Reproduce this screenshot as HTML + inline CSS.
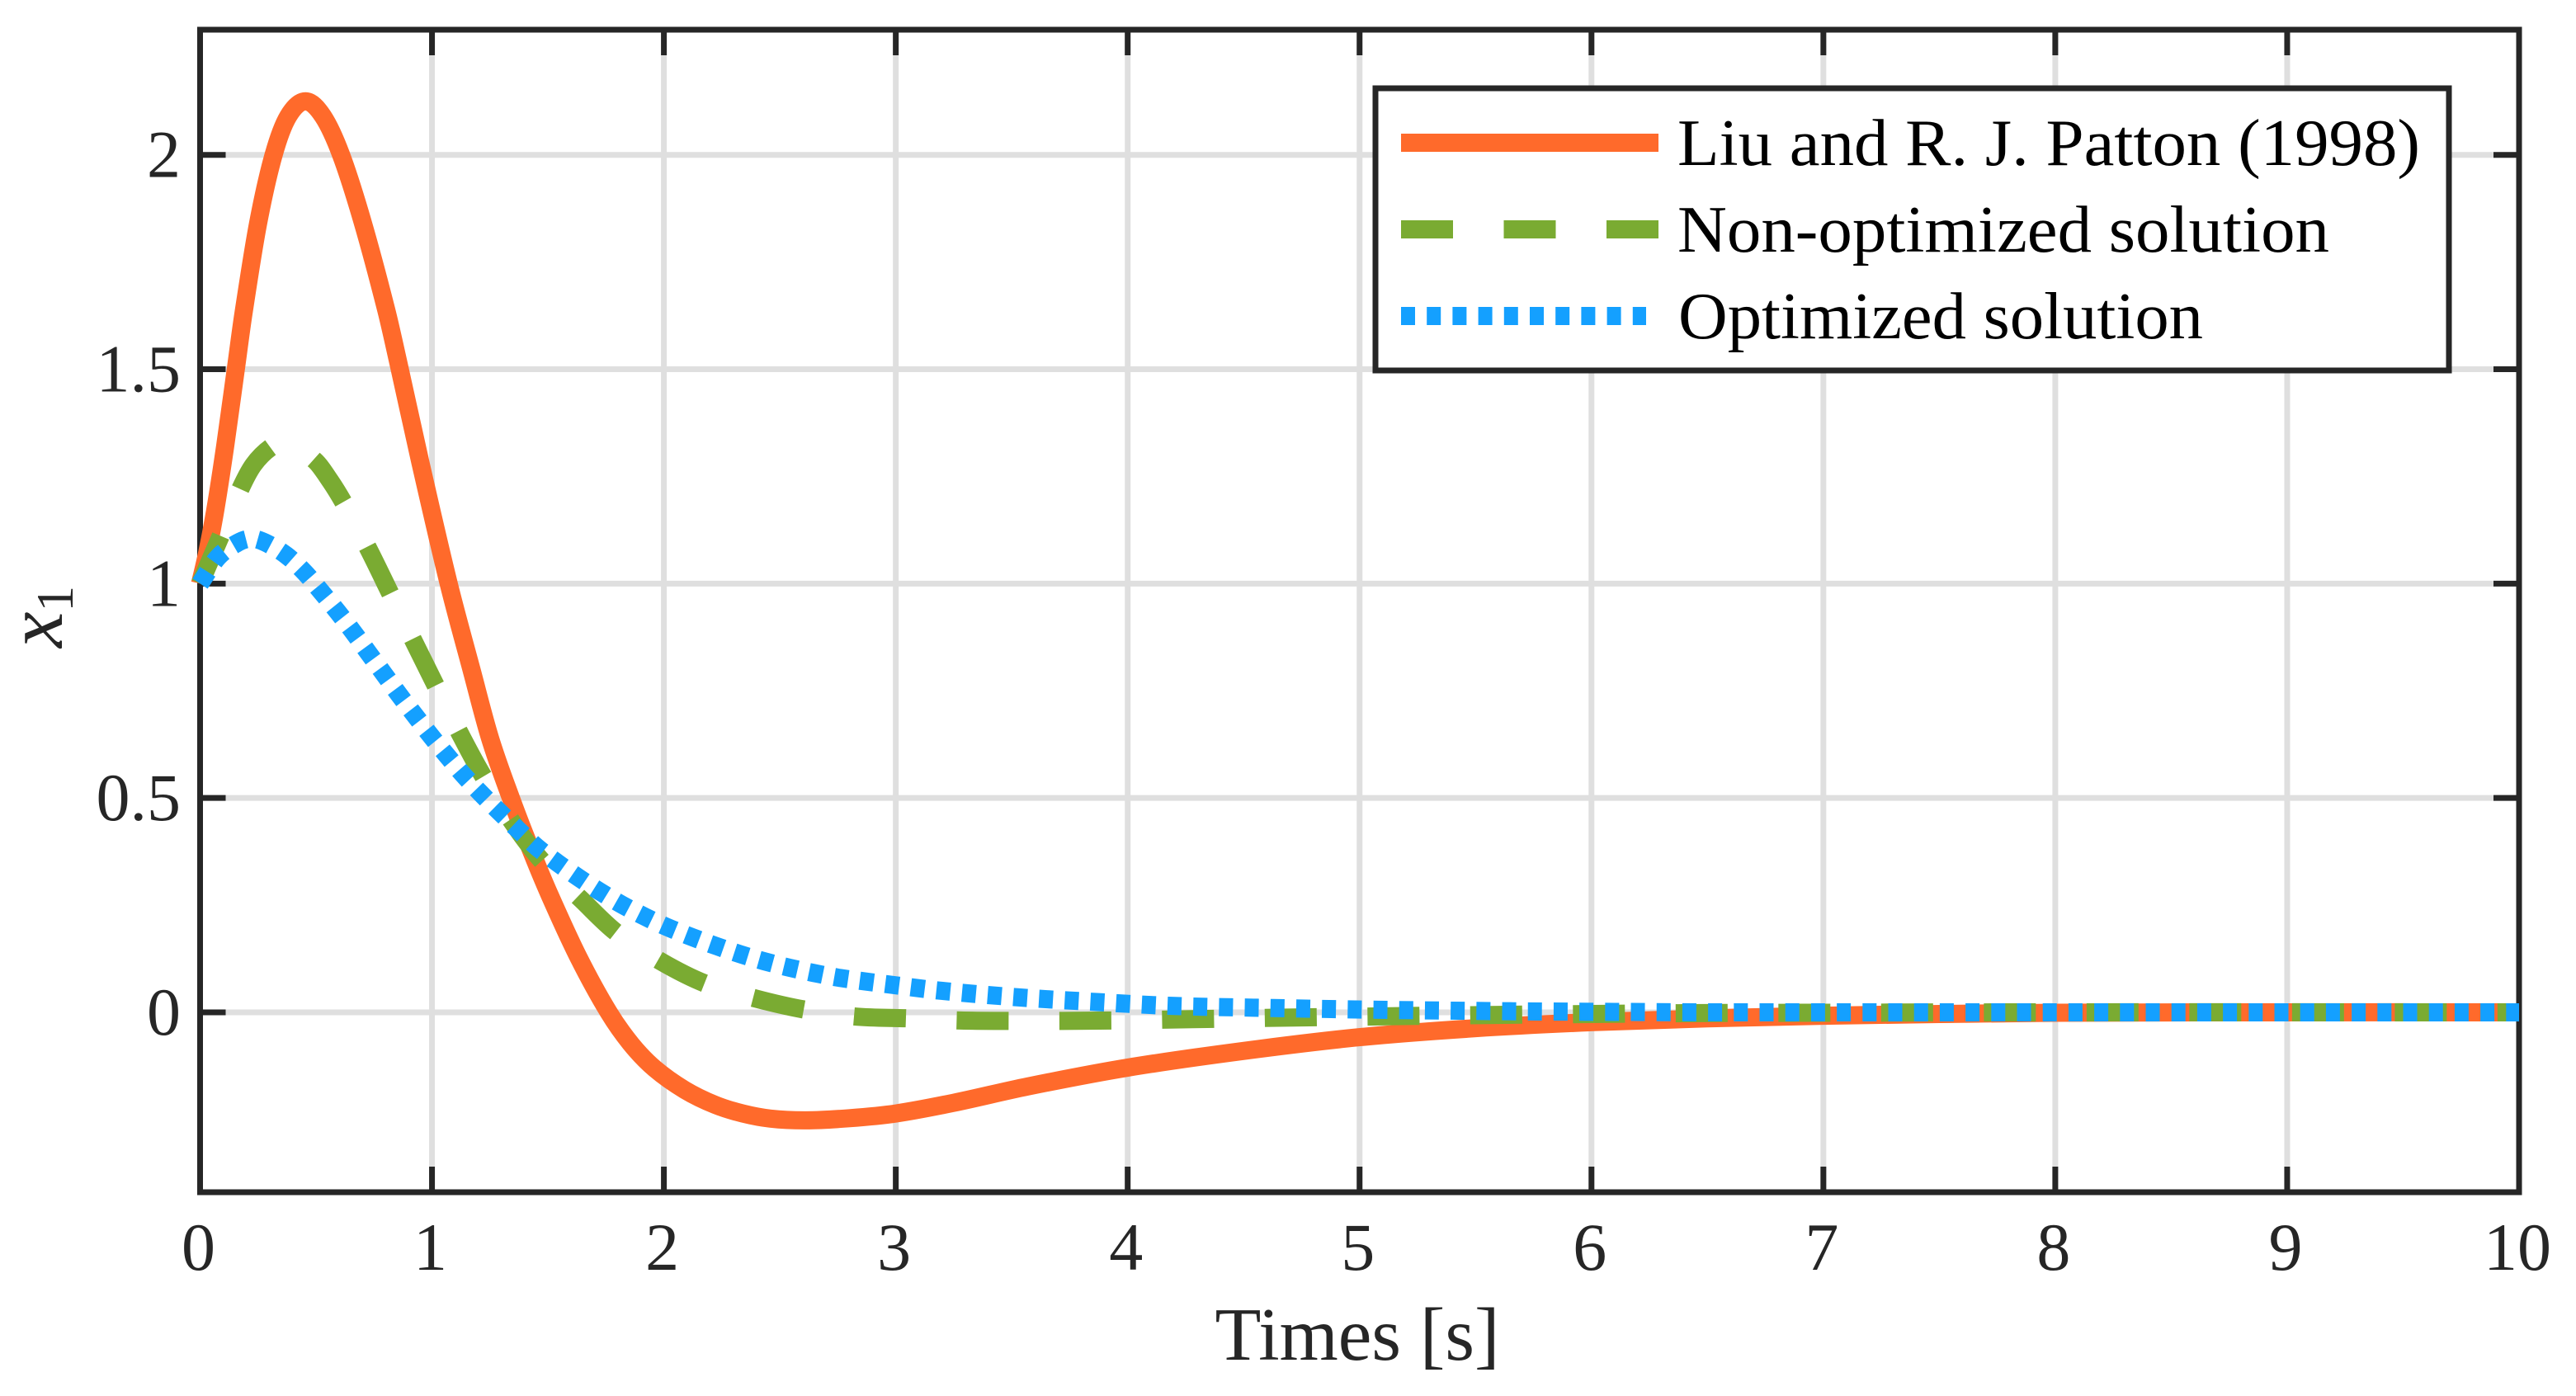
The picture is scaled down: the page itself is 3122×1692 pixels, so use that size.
<!DOCTYPE html>
<html lang="en">
<head>
<meta charset="utf-8">
<title>x1 response</title>
<style>
html,body{margin:0;padding:0;background:#fff;}
svg{display:block;}
text{font-family:"Liberation Serif","Times New Roman",serif;}
</style>
</head>
<body>
<svg id="chart" xmlns="http://www.w3.org/2000/svg" width="3122" height="1692" viewBox="0 0 3122 1692">
  <rect x="0" y="0" width="3122" height="1692" fill="#ffffff"/>
  <g id="grid"></g>
  <g id="ticks"></g>
  <rect x="242.5" y="36" width="2810.5" height="1409" fill="none" stroke="#262626" stroke-width="7"/>
  <g id="ticklabels" fill="#262626" font-size="82"></g>
  <g id="series" fill="none" stroke-width="22" stroke-linecap="butt" stroke-linejoin="round"></g>
  <text x="1645" y="1648" text-anchor="middle" font-size="91.5" fill="#262626">Times [s]</text>
  <text transform="translate(75,785) rotate(-90)" font-size="98" font-style="italic" fill="#262626">x<tspan font-size="63" font-style="normal" dy="13">1</tspan></text>
  <g>
    <rect x="1667" y="107" width="1301" height="342" fill="#ffffff" stroke="#262626" stroke-width="7"/>
    <g>
      <line x1="1698" y1="173" x2="2010" y2="173" stroke="#ff6a2b" stroke-width="22"/>
      <text x="2033" y="200" font-size="80" fill="#000000" textLength="900" lengthAdjust="spacingAndGlyphs">Liu and R. J. Patton (1998)</text>
    </g>
    <g>
      <line x1="1698" y1="278" x2="2010" y2="278" stroke="#7aab32" stroke-width="22" stroke-dasharray="63 61.5"/>
      <text x="2033" y="305" font-size="80" fill="#000000" textLength="790" lengthAdjust="spacingAndGlyphs">Non-optimized solution</text>
    </g>
    <g>
      <line x1="1698" y1="383" x2="1995" y2="383" stroke="#14a0ff" stroke-width="22" stroke-dasharray="17 14.2"/>
      <text x="2034" y="410" font-size="80" fill="#000000" textLength="636" lengthAdjust="spacingAndGlyphs">Optimized solution</text>
    </g>
  </g>
</svg>
<script>
var xTickValues = [0,1,2,3,4,5,6,7,8,9,10];
var yTickValues = [0,0.5,1,1.5,2];
var yTickLabels = ["0","0.5","1","1.5","2"];
var xDomain = [0,10];
var yDomain = [-0.4196,2.2920];

var liuTimes = [0,0.03,0.065,0.108,0.154,0.187,0.25,0.317,0.38,0.455,0.53,0.608,0.70,0.802,0.855,0.951,1.072,1.17,1.25,1.34,1.427,1.508,1.632,1.762,1.86,1.96,2.09,2.222,2.34,2.46,2.613,2.8,3.0,3.25,3.568,4.0,4.5,5.0,5.5,6.0,6.5,7.0,7.5,8.0,9.0,10.0];
var liuValues = [1,1.07,1.17,1.32,1.5,1.63,1.84,2.0,2.09,2.125,2.09,2.0,1.845,1.64,1.515,1.28,1.0,0.80,0.64,0.5,0.378,0.273,0.128,0,-0.075,-0.131,-0.181,-0.216,-0.236,-0.248,-0.252,-0.247,-0.236,-0.211,-0.173,-0.129,-0.09,-0.058,-0.037,-0.023,-0.014,-0.008,-0.004,-0.001,0,0];

var nonOptimizedTimes = [0,0.088,0.174,0.23,0.303,0.37,0.495,0.562,0.621,0.725,0.823,0.92,1.019,1.117,1.215,1.351,1.476,1.646,1.793,1.986,2.179,2.397,2.61,2.83,3.05,3.28,3.5,3.72,3.94,4.28,4.72,5.16,5.6,6.0,6.4,7.0,8.0,10.0];
var nonOptimizedValues = [1,1.11,1.221,1.277,1.317,1.332,1.287,1.239,1.187,1.082,0.974,0.867,0.759,0.654,0.556,0.44,0.352,0.262,0.187,0.119,0.067,0.032,0.006,-0.01,-0.014,-0.019,-0.02,-0.02,-0.019,-0.016,-0.012,-0.009,-0.006,-0.004,-0.002,-0.001,0,0];

var optimizedTimes = [0,0.078,0.165,0.22,0.28,0.372,0.453,0.524,0.595,0.662,0.728,0.792,0.858,0.926,0.995,1.063,1.135,1.21,1.29,1.373,1.453,1.54,1.63,1.72,1.816,1.918,2.013,2.123,2.224,2.327,2.433,2.542,2.644,2.762,3.0,3.2,3.525,3.867,4.19,4.63,5.08,5.65,6.1,6.5,8.0,10.0];
var optimizedValues = [1,1.062,1.096,1.105,1.096,1.066,1.025,0.98,0.933,0.886,0.837,0.79,0.741,0.693,0.645,0.6,0.554,0.511,0.468,0.425,0.385,0.349,0.315,0.283,0.252,0.223,0.199,0.175,0.155,0.136,0.119,0.104,0.092,0.08,0.063,0.05,0.035,0.024,0.015,0.01,0.006,0.0025,0.001,0,0,0];

var svgNS = "http://www.w3.org/2000/svg";
var plotLeft = 242.5, plotRight = 3053, plotTop = 36, plotBottom = 1445;
var tickLen = 31;

function xScale(v){ return plotLeft + (v - xDomain[0]) / (xDomain[1] - xDomain[0]) * (plotRight - plotLeft); }
function yScale(v){ return plotBottom - (v - yDomain[0]) / (yDomain[1] - yDomain[0]) * (plotBottom - plotTop); }

function makeLine(x1, y1, x2, y2, stroke){
  var l = document.createElementNS(svgNS, "line");
  l.setAttribute("x1", x1);
  l.setAttribute("y1", y1);
  l.setAttribute("x2", x2);
  l.setAttribute("y2", y2);
  l.setAttribute("stroke", stroke);
  l.setAttribute("stroke-width", 7);
  return l;
}

var gridG = document.getElementById("grid");
var ticksG = document.getElementById("ticks");
var labelsG = document.getElementById("ticklabels");

xTickValues.forEach(function(v){
  var x = xScale(v);
  if (v !== xDomain[0] && v !== xDomain[1]) {
    var g = makeLine(x, plotTop, x, plotBottom, "#dfdfdf");
    
    
    gridG.appendChild(g);
    var t1 = makeLine(x, plotBottom, x, plotBottom - tickLen, "#262626");
    
    
    ticksG.appendChild(t1);
    var t2 = makeLine(x, plotTop, x, plotTop + tickLen, "#262626");
    
    
    ticksG.appendChild(t2);
  }
  var lab = document.createElementNS(svgNS, "text");
  
  
  lab.setAttribute("x", x - 2);
  lab.setAttribute("y", 1539);
  lab.setAttribute("text-anchor", "middle");
  lab.textContent = String(v);
  labelsG.appendChild(lab);
});

yTickValues.forEach(function(v, i){
  var y = yScale(v);
  var g = makeLine(plotLeft, y, plotRight, y, "#dfdfdf");
  
  
  gridG.appendChild(g);
  var t1 = makeLine(plotLeft, y, plotLeft + tickLen, y, "#262626");
  
  
  ticksG.appendChild(t1);
  var t2 = makeLine(plotRight, y, plotRight - tickLen, y, "#262626");
  
  
  ticksG.appendChild(t2);
  var lab = document.createElementNS(svgNS, "text");
  
  
  lab.setAttribute("x", 219);
  lab.setAttribute("y", y + 27);
  lab.setAttribute("text-anchor", "end");
  lab.textContent = yTickLabels[i];
  labelsG.appendChild(lab);
});

function splinePath(ts, vs){
  var pts = ts.map(function(t, i){ return [xScale(t), yScale(vs[i])]; });
  var n = pts.length;
  var tan = pts.map(function(p, i){
    var a = pts[Math.max(i - 1, 0)], b = pts[Math.min(i + 1, n - 1)];
    var dx = b[0] - a[0];
    return (b[1] - a[1]) / dx;
  });
  var d = "M" + pts[0][0].toFixed(2) + " " + pts[0][1].toFixed(2);
  for (var i = 0; i < n - 1; i++) {
    var h = (pts[i + 1][0] - pts[i][0]) / 3;
    d += "C" + (pts[i][0] + h).toFixed(2) + " " + (pts[i][1] + tan[i] * h).toFixed(2) + " " +
         (pts[i + 1][0] - h).toFixed(2) + " " + (pts[i + 1][1] - tan[i + 1] * h).toFixed(2) + " " +
         pts[i + 1][0].toFixed(2) + " " + pts[i + 1][1].toFixed(2);
  }
  return d;
}

var seriesG = document.getElementById("series");

var liuPath = document.createElementNS(svgNS, "path");


liuPath.setAttribute("d", splinePath(liuTimes, liuValues));
liuPath.setAttribute("stroke", "#ff6a2b");
seriesG.appendChild(liuPath);

var nonOptPath = document.createElementNS(svgNS, "path");


nonOptPath.setAttribute("d", splinePath(nonOptimizedTimes, nonOptimizedValues));
nonOptPath.setAttribute("stroke", "#7aab32");
nonOptPath.setAttribute("stroke-dasharray", "63 61.5");
seriesG.appendChild(nonOptPath);

var optPath = document.createElementNS(svgNS, "path");


optPath.setAttribute("d", splinePath(optimizedTimes, optimizedValues));
optPath.setAttribute("stroke", "#14a0ff");
optPath.setAttribute("stroke-dasharray", "17 14.2");
seriesG.appendChild(optPath);
</script>
</body>
</html>
